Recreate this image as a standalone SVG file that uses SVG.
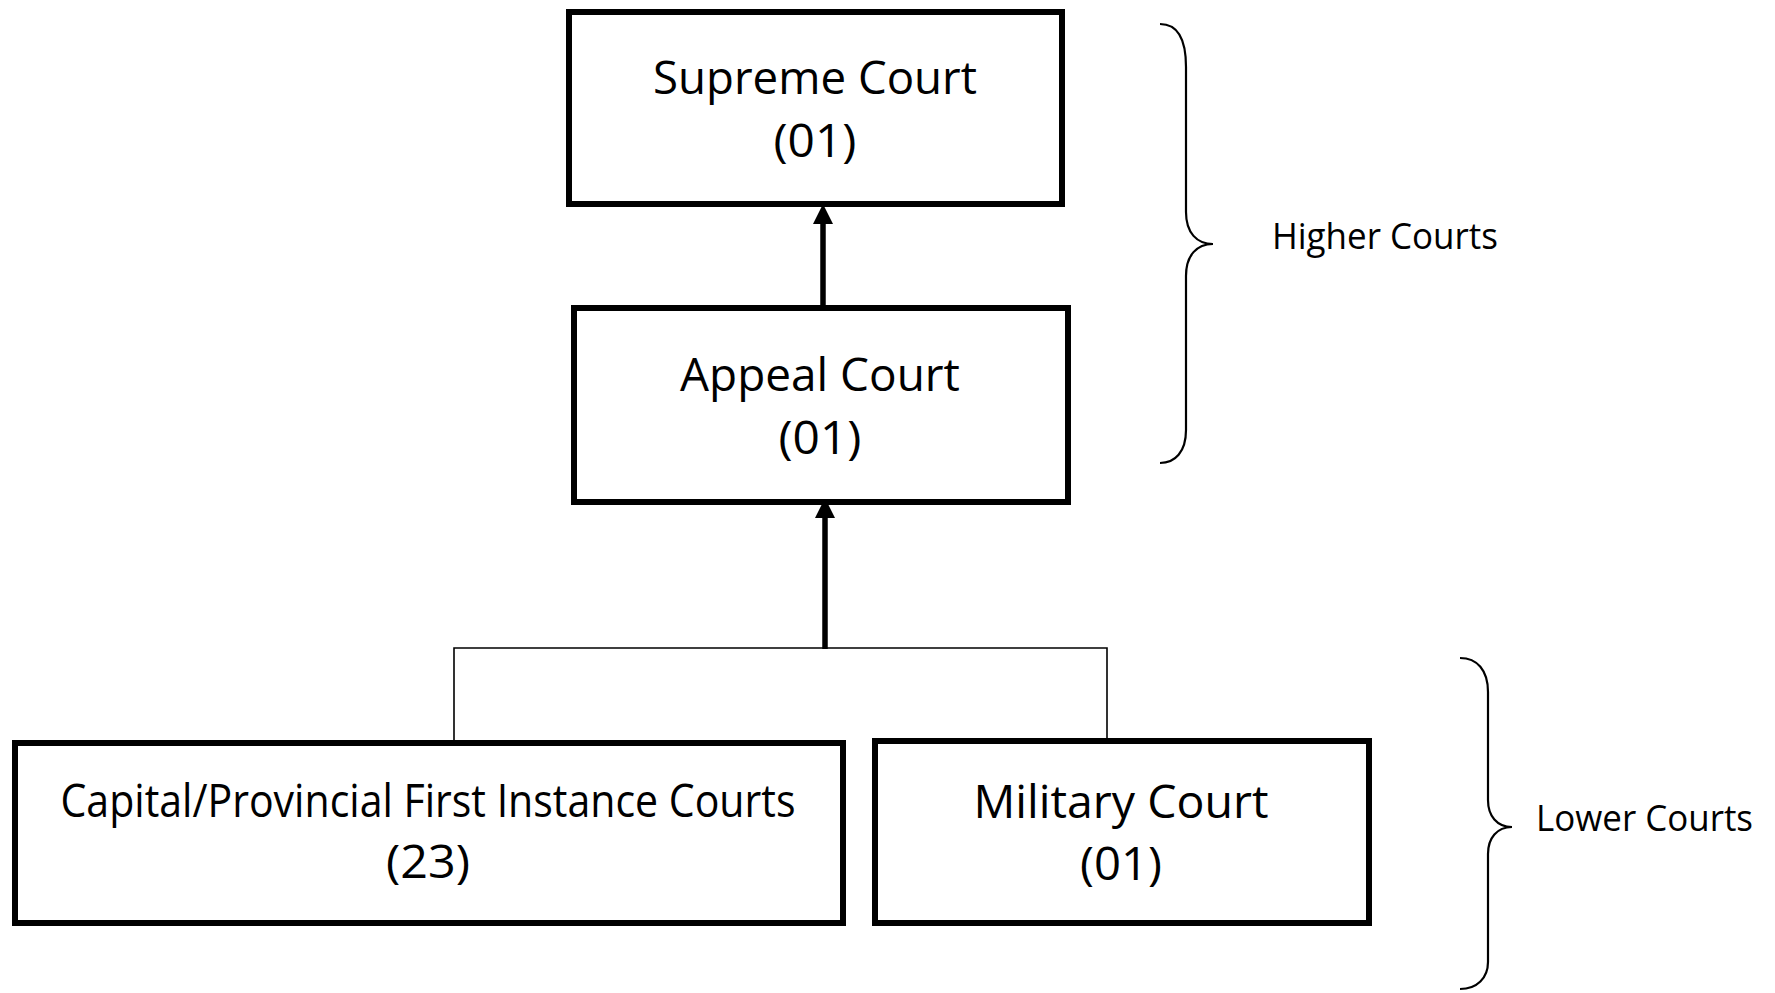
<svg xmlns="http://www.w3.org/2000/svg" width="1775" height="993" viewBox="0 0 1775 993">
<style>
.box{fill:#fff;stroke:#000;stroke-width:6}
.t{font-family:"Open Sans","Noto Sans",sans-serif;font-size:45px;fill:#000;text-anchor:middle}
.lbl{font-family:"Open Sans","Noto Sans",sans-serif;font-size:36px;fill:#000}
.thick{stroke:#000;stroke-width:5.5;fill:none}
.thin{stroke:#000;stroke-width:1.6;fill:none}
.brace{stroke:#000;stroke-width:2.2;fill:none}
</style>
<rect width="1775" height="993" fill="#fff"/>
<g id="connectors">
<line class="thick" x1="823" y1="307" x2="823" y2="222"/>
<polygon points="823,204 813,224 833,224" fill="#000"/>
<line class="thick" x1="825" y1="649" x2="825" y2="516"/>
<polygon points="825,498 815,518 835,518" fill="#000"/>
<polyline class="thin" points="454,742 454,648 1107,648 1107,739"/>
</g>
<g id="supreme">
<rect class="box" x="569" y="12" width="493" height="192"/>
<text class="t" x="815" y="94" textLength="324" lengthAdjust="spacingAndGlyphs">Supreme Court</text>
<text class="t" x="815" y="157" textLength="83" lengthAdjust="spacingAndGlyphs">(01)</text>
</g>
<g id="appeal">
<rect class="box" x="574" y="308" width="494" height="194"/>
<text class="t" x="820" y="391" textLength="280" lengthAdjust="spacingAndGlyphs">Appeal Court</text>
<text class="t" x="820" y="454" textLength="83" lengthAdjust="spacingAndGlyphs">(01)</text>
</g>
<g id="capital">
<rect class="box" x="15" y="743" width="828" height="180"/>
<text class="t" x="428" y="817" textLength="735" lengthAdjust="spacingAndGlyphs">Capital/Provincial First Instance Courts</text>
<text class="t" x="428" y="878" textLength="84" lengthAdjust="spacingAndGlyphs">(23)</text>
</g>
<g id="military">
<rect class="box" x="875" y="741" width="494" height="182"/>
<text class="t" x="1121" y="818" textLength="295" lengthAdjust="spacingAndGlyphs">Military Court</text>
<text class="t" x="1121" y="880" textLength="82" lengthAdjust="spacingAndGlyphs">(01)</text>
</g>
<g id="higher">
<path class="brace" d="M1160,24 C1175,24 1186,35 1186,67 L1186,212 C1186,233 1197,244 1213,244 C1197,244 1186,255 1186,276 L1186,430 C1186,452 1175,463 1160,463"/>
<text class="lbl" x="1272" y="249" textLength="226" lengthAdjust="spacingAndGlyphs">Higher Courts</text>
</g>
<g id="lower">
<path class="brace" d="M1460,658 C1477,658 1488,670 1488,692 L1488,800 C1488,816 1497,827 1512,827 C1497,827 1488,838 1488,854 L1488,962 C1488,978 1477,989 1460,989"/>
<text class="lbl" x="1536" y="831" textLength="217" lengthAdjust="spacingAndGlyphs">Lower Courts</text>
</g>
</svg>
